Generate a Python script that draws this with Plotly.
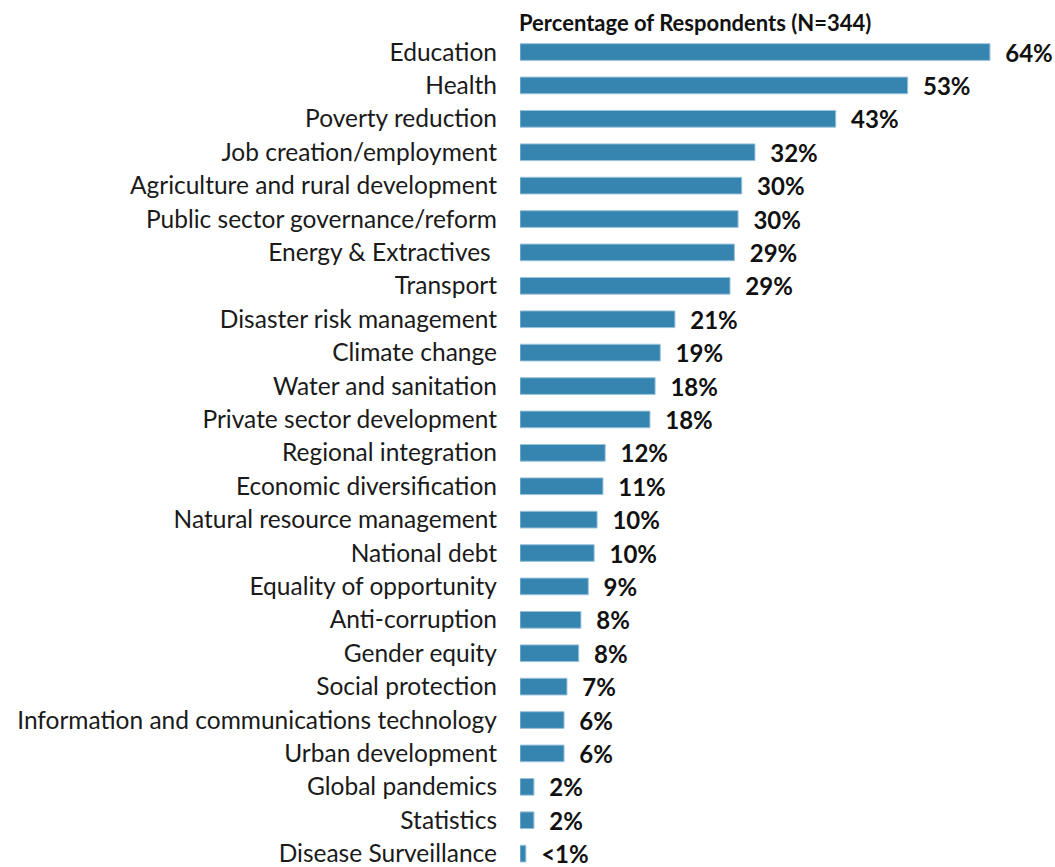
import plotly.graph_objects as go

categories = [
    "Education", "Health", "Poverty reduction", "Job creation/employment",
    "Agriculture and rural development", "Public sector governance/reform",
    "Energy & Extractives ", "Transport", "Disaster risk management",
    "Climate change", "Water and sanitation", "Private sector development",
    "Regional integration", "Economic diversification",
    "Natural resource management", "National debt", "Equality of opportunity",
    "Anti-corruption", "Gender equity", "Social protection",
    "Information and communications technology", "Urban development",
    "Global pandemics", "Statistics", "Disease Surveillance",
]
values = [64.0, 52.8, 43.0, 32.0, 30.2, 29.7, 29.2, 28.6, 21.1, 19.1, 18.4,
          17.7, 11.6, 11.3, 10.5, 10.1, 9.3, 8.3, 8.0, 6.4, 6.0, 6.0, 1.9, 1.9, 0.8]
value_labels = ["64%", "53%", "43%", "32%", "30%", "30%", "29%", "29%", "21%",
                "19%", "18%", "18%", "12%", "11%", "10%", "10%", "9%", "8%",
                "8%", "7%", "6%", "6%", "2%", "2%", "<1%"]

FONT = "Lato"

fig = go.Figure(go.Bar(
    x=values, y=categories, orientation="h",
    marker=dict(color="#3585b0", line=dict(color="#9cc3dc", width=1)),
    text=value_labels, texttemplate="\u00a0\u00a0<b>%{text}</b>",
    textposition="outside", constraintext="none",
    textfont=dict(family=FONT, size=24, color="#111111"),
    cliponaxis=False, width=0.5,
))

fig.update_layout(
    width=1055, height=867,
    margin=dict(l=520, r=21, t=36, b=0, pad=0),
    plot_bgcolor="white", paper_bgcolor="white",
    showlegend=False,
    font=dict(family=FONT, color="#1a1a1a"),
    annotations=[dict(
        text="<b>Percentage of Respondents (N=344)</b>",
        x=-0.006, xref="paper", xanchor="left", y=1 + (36 - 22) / 831,
        yref="paper", yanchor="middle",
        showarrow=False, font=dict(family=FONT, size=22, color="#111111"),
    )],
)
fig.update_xaxes(range=[0, 70], visible=False, showgrid=False, automargin=False)
fig.update_yaxes(
    type="category", categoryorder="array", categoryarray=categories,
    range=[24.4, -0.48], showgrid=False, showline=False, ticks="",
    automargin=False,
    ticklabelstandoff=22, tickfont=dict(family=FONT, size=24.5, color="#1a1a1a"),
)

fig.write_html(
    "out.html",
    config={"displayModeBar": False},
    post_script="document.body.style.margin='0';document.body.style.overflow='hidden';",
)
